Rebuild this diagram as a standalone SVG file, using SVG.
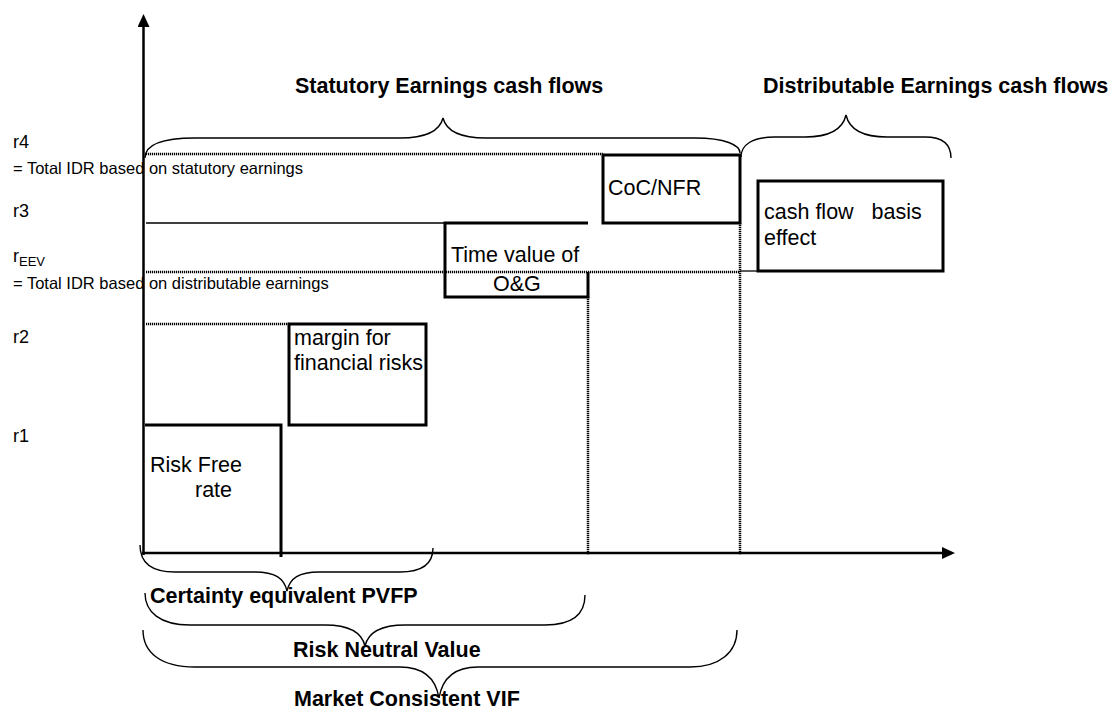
<svg xmlns="http://www.w3.org/2000/svg" width="1114" height="710" viewBox="0 0 1114 710">
<defs>
<style>
text{font-family:"Liberation Sans",Arial,sans-serif;fill:#000}
.lbl{font-size:18px}
.sm{font-size:16.5px}
.box{font-size:21.5px}
.ttl{font-size:21.5px;font-weight:bold}
.thick{fill:none;stroke:#000;stroke-width:3}
.thin{fill:none;stroke:#000;stroke-width:1.3}
.dot{fill:none;stroke:#000;stroke-width:2.5;stroke-dasharray:1.2 0.8}
.brace{fill:none;stroke:#000;stroke-width:1.4}
.axis{fill:none;stroke:#000;stroke-width:2.5}
</style>
<marker id="ah" viewBox="0 0 13 12" refX="1" refY="6" markerWidth="13" markerHeight="12" markerUnits="userSpaceOnUse" orient="auto">
<path d="M0,0 L13,6 L0,12 Z" fill="#000"/>
</marker>
</defs>
<rect width="1114" height="710" fill="#fff"/>

<g id="connectors">
<line class="axis" x1="143.5" y1="555" x2="143.5" y2="26" marker-end="url(#ah)"/>
<line class="axis" x1="142" y1="553" x2="943" y2="553" marker-end="url(#ah)"/>
<line class="dot" x1="146" y1="154" x2="603" y2="154"/>
<line class="thin" x1="146" y1="223" x2="445" y2="223"/>
<line class="dot" x1="146" y1="272" x2="740" y2="272"/>
<line class="thin" x1="740" y1="271" x2="758" y2="271"/>
<line class="dot" x1="146" y1="324" x2="289" y2="324"/>
<line class="dot" x1="588" y1="297" x2="588" y2="555"/>
<line class="dot" x1="740" y1="223" x2="740" y2="555"/>
</g>

<g id="labels-left">
<text class="lbl" x="13" y="148">r4</text>
<text class="sm" x="13" y="174">= Total IDR based on statutory earnings</text>
<text class="lbl" x="13" y="217">r3</text>
<text class="lbl" x="13" y="262">r<tspan font-size="13" dy="4">EEV</tspan></text>
<text class="sm" x="13" y="289">= Total IDR based on distributable earnings</text>
<text class="lbl" x="13" y="343">r2</text>
<text class="lbl" x="13" y="442">r1</text>
</g>

<g id="statutory-brace">
<path class="brace" d="M145,158 C145,145 160,138 195,138 L400,138 C428,138 440,130 443,118 C446,130 458,138 486,138 L695,138 C725,138 740,145 740,153"/>
<text class="ttl" x="295" y="93">Statutory Earnings cash flows</text>
</g>

<g id="distributable-brace">
<path class="brace" d="M741,157 C741,145 752,137 775,137 L805,137 C832,137 843,128 846,115 C849,128 860,137 887,137 L925,137 C945,137 951,147 951,158"/>
<text class="ttl" x="763" y="93">Distributable Earnings cash flows</text>
</g>

<g id="coc-nfr">
<rect class="thick" x="603" y="155" width="137" height="68"/>
<text class="box" x="608" y="195">CoC/NFR</text>
</g>

<g id="time-value">
<path class="thick" d="M588,223 L445,223 L445,297 L588,297 L588,272"/>
<text class="box" x="451" y="262">Time value of</text>
<text class="box" x="493" y="291">O&amp;G</text>
</g>

<g id="cash-flow-basis">
<rect class="thick" x="758" y="181" width="185" height="90"/>
<text class="box" x="764" y="219" xml:space="preserve">cash flow   basis</text>
<text class="box" x="764" y="245">effect</text>
</g>

<g id="margin">
<rect class="thick" x="289" y="324" width="137" height="101"/>
<text class="box" x="294" y="345">margin for</text>
<text class="box" x="294" y="370">financial risks</text>
</g>

<g id="risk-free">
<path class="thick" d="M145,425 L281,425 L281,557"/>
<text class="box" x="150" y="472">Risk Free</text>
<text class="box" x="195" y="497">rate</text>
</g>

<g id="certainty-brace">
<path class="brace" d="M140,545 C140,562 150,572 175,572 L255,572 C275,572 284,578 287,591 C290,578 299,572 319,572 L400,572 C425,572 433,562 433,548"/>
<text class="ttl" x="150" y="603">Certainty equivalent PVFP</text>
</g>

<g id="risk-neutral-brace">
<path class="brace" d="M145,593 C145,612 160,625 190,625 L325,625 C350,625 362,633 365,646 C368,633 380,625 405,625 L545,625 C575,625 585,612 585,595"/>
<text class="ttl" x="293" y="657">Risk Neutral Value</text>
</g>

<g id="market-brace">
<path class="brace" d="M143,630 C143,652 160,667 195,667 L400,667 C425,667 436,680 439,698 C442,680 453,667 478,667 L690,667 C720,667 737,652 737,630"/>
<text class="ttl" x="294" y="706">Market Consistent VIF</text>
</g>
</svg>
